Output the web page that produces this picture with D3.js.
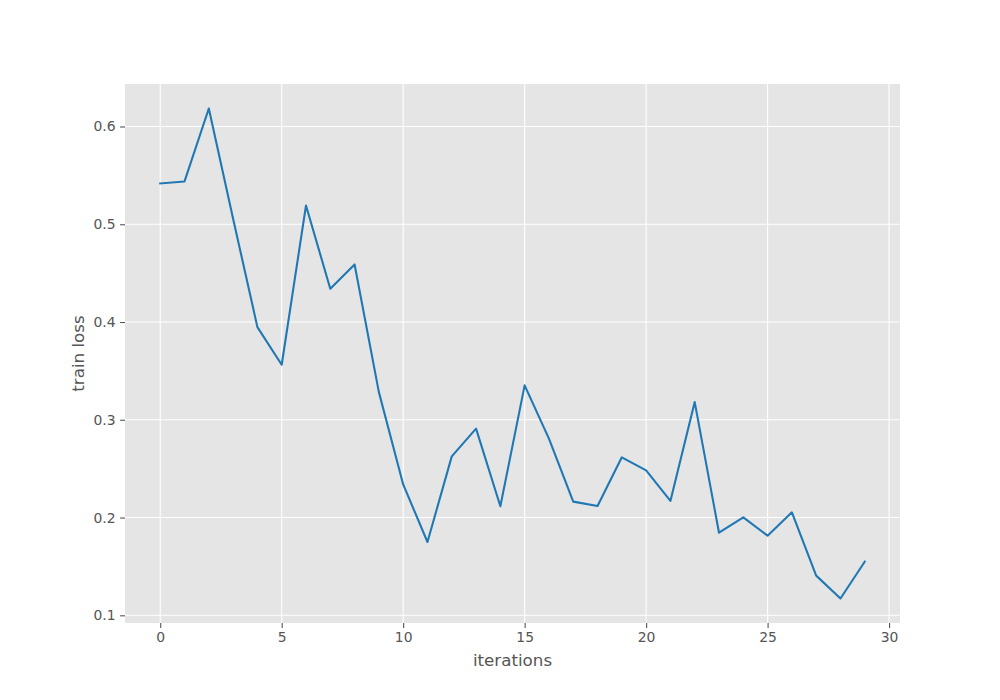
<!DOCTYPE html>
<html>
<head>
<meta charset="utf-8">
<script src="https://cdn.jsdelivr.net/npm/d3@7"></script>
<style>
  body { margin: 0; background: #fff; }
  svg { display: block; font-family: "DejaVu Sans", sans-serif; }
</style>
</head>
<body>
<svg id="chart" width="1000" height="700"></svg>
<script>
const iterations = [0,1,2,3,4,5,6,7,8,9,10,11,12,13,14,15,16,17,18,19,20,21,22,23,24,25,26,27,28,29];
const trainLoss = [0.5417,0.5438,0.6184,0.5056,0.3948,0.3563,0.5192,0.4340,0.4589,0.3283,
                   0.2339,0.1750,0.2626,0.2909,0.2115,0.3352,0.2807,0.2163,0.2118,0.2616,
                   0.2483,0.2170,0.3181,0.1845,0.2002,0.1815,0.2053,0.1406,0.1172,0.1549];
const xTicks = [0,5,10,15,20,25,30];
const yTicks = [0.1,0.2,0.3,0.4,0.5,0.6];
const xLabel = "iterations";
const yLabel = "train loss";

const mLeft = 125, mRight = 900, mTop = 84, mBottom = 623;

const svg = d3.select("#chart");

const xMin = d3.min(iterations), xMax = d3.max(iterations);
const xPad = (xMax - xMin) * 0.05;
const yMin = d3.min(trainLoss), yMax = d3.max(trainLoss);
const yPad = (yMax - yMin) * 0.05;

const x = d3.scaleLinear().domain([xMin - xPad, xMax + xPad]).range([mLeft, mRight]);
const y = d3.scaleLinear().domain([yMin - yPad, yMax + yPad]).range([mBottom, mTop]);

// background
svg.append("rect").attr("x", mLeft).attr("y", mTop)
  .attr("width", mRight - mLeft).attr("height", mBottom - mTop)
  .attr("fill", "#E5E5E5");

// grid
const g = svg.append("g");
g.selectAll(".vg").data(xTicks).join("line")
  .attr("x1", d => x(d)).attr("x2", d => x(d))
  .attr("y1", mTop).attr("y2", mBottom)
  .attr("stroke", "#fff").attr("stroke-width", 1.1);
g.selectAll(".hg").data(yTicks).join("line")
  .attr("x1", mLeft).attr("x2", mRight)
  .attr("y1", d => y(d)).attr("y2", d => y(d))
  .attr("stroke", "#fff").attr("stroke-width", 1.1);

// axes
const xAxis = d3.axisBottom(x).tickValues(xTicks).tickFormat(d3.format("d"))
  .tickSize(4.9).tickPadding(4.5);
const yAxis = d3.axisLeft(y).tickValues(yTicks).tickFormat(d3.format(".1f"))
  .tickSize(4.9).tickPadding(4.5);

const gx = svg.append("g").attr("transform", `translate(0,${mBottom})`).call(xAxis);
const gy = svg.append("g").attr("transform", `translate(${mLeft},0)`).call(yAxis);
[gx, gy].forEach(a => {
  a.select(".domain").remove();
  a.selectAll(".tick line").attr("stroke", "#555555").attr("stroke-width", 1.1);
  a.selectAll(".tick text").attr("fill", "#555555")
    .style("font-family", "'DejaVu Sans', sans-serif").style("font-size", "13.9px");
});

// line
const line = d3.line().x((d, i) => x(iterations[i])).y(d => y(d));
svg.append("path").datum(trainLoss)
  .attr("d", line).attr("fill", "none")
  .attr("stroke", "#1f77b4").attr("stroke-width", 2.08)
  .attr("stroke-linejoin", "round").attr("stroke-linecap", "square");

// labels
svg.append("text").attr("x", (mLeft + mRight) / 2).attr("y", 666)
  .attr("text-anchor", "middle").attr("fill", "#555555")
  .style("font-size", "16.7px").text(xLabel);
svg.append("text").attr("transform", `translate(84,${(mTop + mBottom) / 2}) rotate(-90)`)
  .attr("text-anchor", "middle").attr("fill", "#555555")
  .style("font-size", "16.7px").text(yLabel);
</script>
</body>
</html>
